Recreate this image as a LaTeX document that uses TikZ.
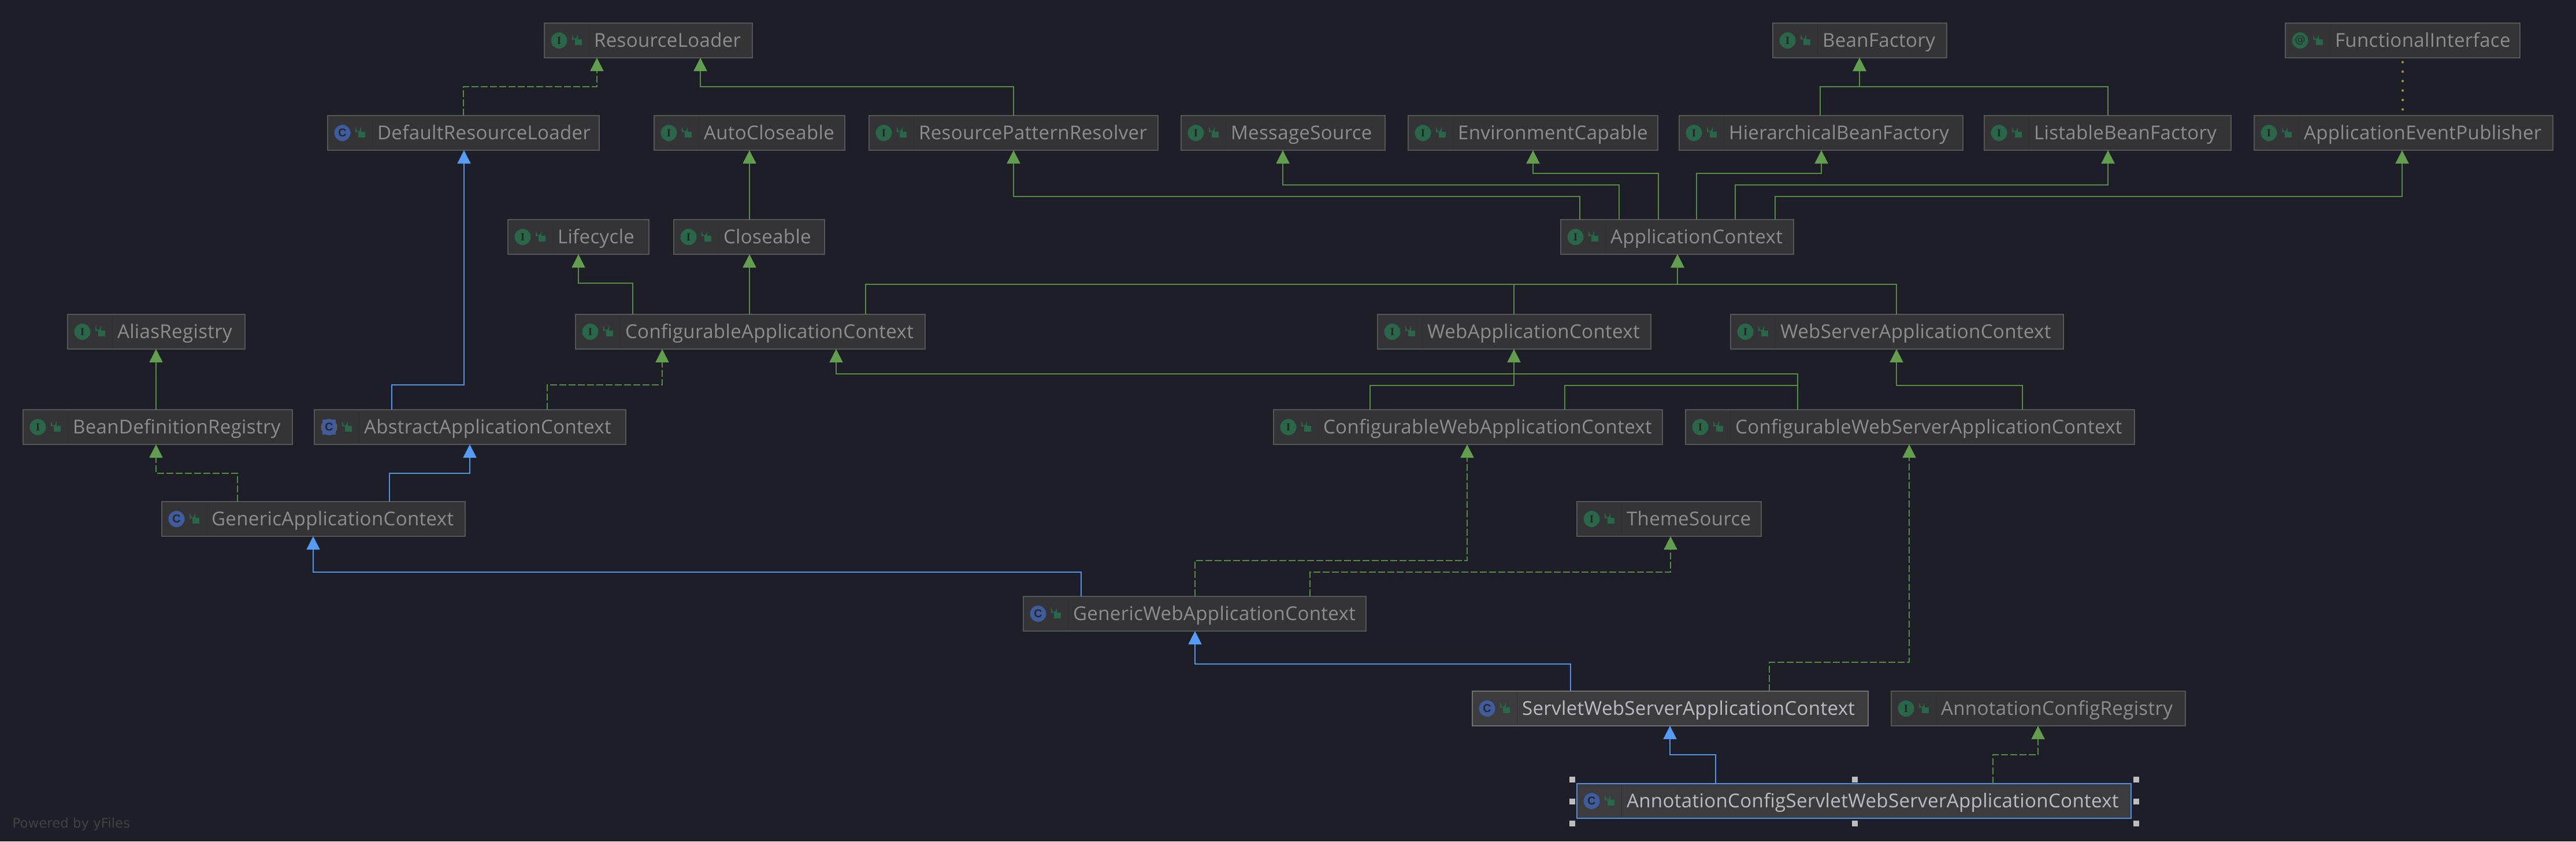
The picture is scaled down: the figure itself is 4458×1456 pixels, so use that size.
\documentclass[tikz,border=0pt]{standalone}
\usepackage{fontspec}
\usetikzlibrary{arrows.meta}
\setmainfont{Open Sans}[LetterSpace=1.0]
\newfontfamily\iconserif{Liberation Serif}
\newfontfamily\iconsans{Liberation Sans}
\newfontfamily\iconat{DejaVu Sans}
\newfontfamily\footfont{DejaVu Sans}
\definecolor{bgc}{HTML}{1D1E27}
\definecolor{boxfill}{HTML}{343436}
\definecolor{boxedge}{HTML}{565658}
\definecolor{boxsep}{HTML}{303032}
\definecolor{boxtext}{HTML}{8C8C92}
\definecolor{selfill}{HTML}{3C3C3E}
\definecolor{seledge}{HTML}{707072}
\definecolor{seltext}{HTML}{BCBAC4}
\definecolor{selblue}{HTML}{4F8FEA}
\definecolor{lgreen}{HTML}{568C44}
\definecolor{agreen}{HTML}{629E4E}
\definecolor{lblue}{HTML}{4F93EE}
\definecolor{ablue}{HTML}{549CF7}
\definecolor{icongreen}{HTML}{29664A}
\definecolor{iconblue}{HTML}{3F5C9E}
\definecolor{icongrey}{HTML}{5E5E66}
\definecolor{dotyellow}{HTML}{A0A000}
\definecolor{handle}{HTML}{BDBDBD}
\definecolor{footc}{HTML}{414246}
\tikzset{
  x=0.01cm,y=-0.01cm,
  umlbox/.style={draw=boxedge,fill=boxfill,text=boxtext,line width=0.02cm,inner xsep=0pt,inner ysep=0pt,
    outer sep=0pt,anchor=west,minimum height=0.6cm,text height=0.23cm,text depth=0pt,align=left,font=\fontsize{9.4pt}{10pt}\selectfont},
  selbox/.style={umlbox,draw=seledge,fill=selfill,text=seltext},
  curbox/.style={umlbox,draw=selblue,fill=selfill,text=seltext},
  iconnode/.style={circle,inner sep=0pt,minimum size=0.28cm,text=black!85,outer sep=0pt},
  lockbody/.style={fill=icongreen},
  lockbar/.style={draw=icongreen,line width=0.016cm},
  sepline/.style={draw=boxsep,line width=0.01cm},
  extends/.style={draw=lgreen,line width=0.018cm,-{Triangle[length=0.23cm,width=0.23cm,color=agreen]}},
  implements/.style={extends,dash pattern=on 0.12cm off 0.04cm},
  inherits/.style={draw=lblue,line width=0.018cm,-{Triangle[length=0.23cm,width=0.23cm,color=ablue]}},
  annotated/.style={draw=dotyellow,line width=0.04cm,line cap=round,dash pattern=on 0.1pt off 0.16cm,dash phase=0.09cm},
  handlebox/.style={fill=handle,draw=none,minimum size=0.1cm,inner sep=0pt,outer sep=0pt},
}
\newcommand{\iconI}[1]{\node[iconnode,fill=icongreen] (#1-icon) at (25.5,0) {\iconserif\bfseries\fontsize{5.4pt}{6pt}\selectfont I};}
\newcommand{\iconC}[1]{\node[iconnode,fill=iconblue] (#1-icon) at (25.5,0) {\iconsans\bfseries\fontsize{5.6pt}{6pt}\selectfont C};}
\newcommand{\iconAC}[1]{\node[iconnode,fill=icongrey] (#1-icon) at (25.5,0) {};
  \fill[iconblue] (14,-13) rectangle (37,13);
  \node[text=black!85,inner sep=0pt] at (25.5,0) {\iconsans\bfseries\fontsize{5.6pt}{6pt}\selectfont C};}
\newcommand{\iconAt}[1]{\node[iconnode,fill=icongreen] (#1-icon) at (25.5,0) {\iconat\fontsize{5.2pt}{6pt}\selectfont @};}
\newcommand{\umlnode}[7][umlbox]{%
  \pgfmathsetlengthmacro{\boxw}{(#5-#4)*0.1mm}%
  \node[#1,text width=\boxw] (#2) at (#4,#6) {\hspace*{0.86cm}\mbox{#7}};
  \begin{scope}[shift={(#2.west)}]
    \draw[sepline] (77,-28) -- (77,28);
    #3{#2}
    \fill[lockbody] (53,-2) rectangle (65,8);
    \draw[lockbar] (49,-1) -- (49,-6) arc[start angle=180,end angle=0,radius=4] -- (57,-2);
  \end{scope}
}
\newcommand{\conn}[6]{\draw[#1] (#3,0 |- #2.north) -- (#3,#4) -- (#5,#4) -- (#5,0 |- #6.south);}
\newcommand{\straight}[4]{\draw[#1] (#3,0 |- #2.north) -- (#3,0 |- #4.south);}
\begin{document}
\begin{tikzpicture}
\fill[bgc] (0,0) rectangle (4458,1456);
\useasboundingbox (0,0) rectangle (4458,1456);
% row 1
\umlnode{rl}{\iconI}{942}{1302}{70}{ResourceLoader}
\umlnode{bf}{\iconI}{3068}{3369}{70}{BeanFactory}
\umlnode{fi}{\iconAt}{3955}{4361}{70}{FunctionalInterface}
% row 2
\umlnode{drl}{\iconC}{567}{1037}{230}{DefaultResourceLoader}
\umlnode{ac}{\iconI}{1132}{1462}{230}{AutoCloseable}
\umlnode{rpr}{\iconI}{1504}{2004}{230}{ResourcePatternResolver}
\umlnode{ms}{\iconI}{2044}{2397}{230}{MessageSource}
\umlnode{ec}{\iconI}{2437}{2869}{230}{EnvironmentCapable}
\umlnode{hbf}{\iconI}{2906}{3397}{230}{HierarchicalBeanFactory}
\umlnode{lbf}{\iconI}{3434}{3861}{230}{ListableBeanFactory}
\umlnode{aep}{\iconI}{3901}{4418}{230}{ApplicationEventPublisher}
% row 3
\umlnode{lc}{\iconI}{879}{1123}{410}{Lifecycle}
\umlnode{cl}{\iconI}{1166}{1427}{410}{Closeable}
\umlnode{actx}{\iconI}{2701}{3104}{410}{ApplicationContext}
% row 4
\umlnode{alias}{\iconI}{117}{424}{574}{AliasRegistry}
\umlnode{cac}{\iconI}{996}{1601}{574}{ConfigurableApplicationContext}
\umlnode{wac}{\iconI}{2384}{2857}{574}{WebApplicationContext}
\umlnode{wsac}{\iconI}{2995}{3571}{574}{WebServerApplicationContext}
% row 5
\umlnode{bdr}{\iconI}{40}{506}{739}{BeanDefinitionRegistry}
\umlnode{aac}{\iconAC}{544}{1083}{739}{AbstractApplicationContext}
\umlnode{cwac}{\iconI}{2204}{2877}{739}{ConfigurableWebApplicationContext}
\umlnode{cwsac}{\iconI}{2917}{3693}{739}{ConfigurableWebServerApplicationContext}
% row 6
\umlnode{gac}{\iconC}{280}{805}{898}{GenericApplicationContext}
\umlnode{ts}{\iconI}{2729}{3048}{898}{ThemeSource}
% row 7
\umlnode{gwac}{\iconC}{1771}{2364}{1062}{GenericWebApplicationContext}
% row 8
\umlnode[selbox]{swsac}{\iconC}{2548}{3233}{1226}{ServletWebServerApplicationContext}
\umlnode{acr}{\iconI}{3273}{3782}{1226}{AnnotationConfigRegistry}
% row 9
\umlnode[curbox]{acswsac}{\iconC}{2729}{3687}{1386}{AnnotationConfigServletWebServerApplicationContext}
% selection handles
\node[handlebox] (h1) at (2721,1349) {};
\node[handlebox] (h2) at (3210,1349) {};
\node[handlebox] (h3) at (3697,1349) {};
\node[handlebox] (h4) at (2721,1387) {};
\node[handlebox] (h5) at (3697,1387) {};
\node[handlebox] (h6) at (2721,1425) {};
\node[handlebox] (h7) at (3210,1425) {};
\node[handlebox] (h8) at (3697,1425) {};
% connectors
\conn{implements}{drl}{802}{150}{1033}{rl}
\conn{extends}{rpr}{1754}{150}{1212}{rl}
\conn{extends}{hbf}{3150}{150}{3218}{bf}
\conn{extends}{lbf}{3648}{150}{3218}{bf}
\draw[annotated] (4158,0 |- fi.south) -- (4158,0 |- aep.north);
\draw[inherits] (678,0 |- aac.north) -- (678,666) -- (803,666) -- (803,0 |- drl.south);
\straight{extends}{cl}{1297}{ac}
\straight{extends}{cac}{1297}{cl}
\conn{extends}{cac}{1095}{490}{1001}{lc}
\straight{extends}{bdr}{270}{alias}
\conn{implements}{gac}{411}{819}{270}{bdr}
\conn{inherits}{gac}{674}{819}{813}{aac}
\conn{implements}{aac}{947}{666}{1146}{cac}
\conn{inherits}{gwac}{1871}{990}{542}{gac}
\conn{extends}{actx}{2734}{340}{1754}{rpr}
\conn{extends}{actx}{2802}{320}{2220}{ms}
\conn{extends}{actx}{2870}{300}{2653}{ec}
\conn{extends}{actx}{2936}{300}{3152}{hbf}
\conn{extends}{actx}{3003}{320}{3648}{lbf}
\conn{extends}{actx}{3072}{340}{4157}{aep}
\conn{extends}{cac}{1498}{492}{2903}{actx}
\conn{extends}{wac}{2620}{492}{2903}{actx}
\conn{extends}{wsac}{3282}{492}{2903}{actx}
\conn{extends}{cwac}{2371}{667}{2620}{wac}
\conn{extends}{cwsac}{3500}{667}{3282}{wsac}
\conn{extends}{cwsac}{3111}{647}{1447}{cac}
\draw[extends,-] (2708,0 |- cwac.north) -- (2708,667) -- (3111,667);
\conn{implements}{gwac}{2068}{970}{2539}{cwac}
\conn{implements}{gwac}{2267}{990}{2891}{ts}
\conn{inherits}{swsac}{2718}{1149}{2068}{gwac}
\conn{implements}{swsac}{3062}{1146}{3304}{cwsac}
\conn{inherits}{acswsac}{2969}{1306}{2890}{swsac}
\conn{implements}{acswsac}{3449}{1306}{3527}{acr}
\node[anchor=base west,text=footc,inner sep=0pt,font=\footfont\fontsize{6.5pt}{7pt}\selectfont] (powered) at (21,1432) {Powered by yFiles};
\end{tikzpicture}
\end{document}
